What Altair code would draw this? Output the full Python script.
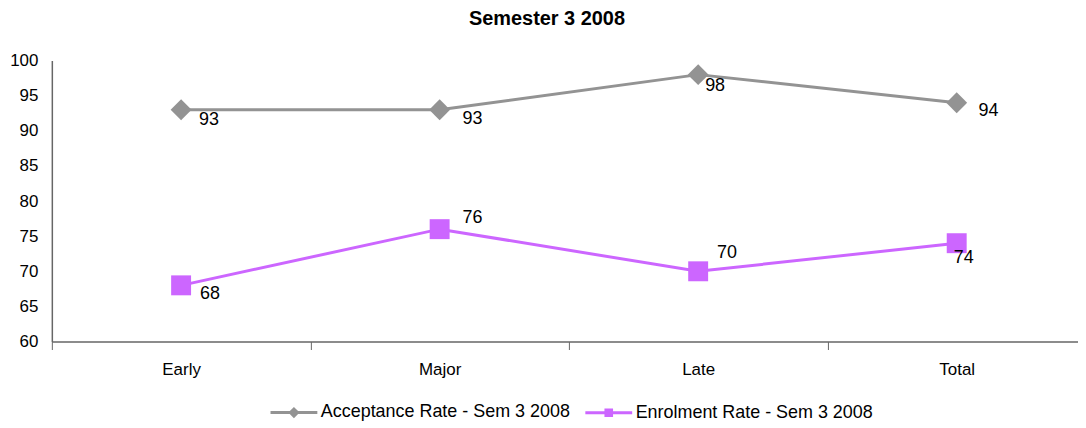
import altair as alt
import pandas as pd

categories = ["Early", "Major", "Late", "Total"]
series_names = ["Acceptance Rate - Sem 3 2008", "Enrolment Rate - Sem 3 2008"]
acceptance = [93, 93, 98, 94]
enrolment = [68, 76, 70, 74]
title_text = "Semester 3 2008"
y_ticks = [60, 65, 70, 75, 80, 85, 90, 95, 100]

rows = []
for c, v in zip(categories, acceptance):
    rows.append({"category": c, "series": series_names[0], "value": v})
for c, v in zip(categories, enrolment):
    rows.append({"category": c, "series": series_names[1], "value": v})
df = pd.DataFrame(rows)

FONT = "Liberation Sans"
GRAY = "#939393"
PURPLE = "#CC66FF"
AXIS_COL = "#666666"

color_scale = alt.Scale(domain=series_names, range=[GRAY, PURPLE])

x_enc = alt.X(
    "category:N",
    sort=categories,
    scale=alt.Scale(type="band", domain=categories, range=[0, 1038], paddingInner=0, paddingOuter=0),
    axis=alt.Axis(
        title=None, labelAngle=0, tickBand="extent", tickSize=8, tickColor=AXIS_COL,
        domainColor=AXIS_COL, domainWidth=1.5, labelFontSize=17, labelColor="black",
        labelFont=FONT, labelPadding=12, grid=False,
    ),
)
y_enc = alt.Y(
    "value:Q",
    scale=alt.Scale(domain=[60, 100], nice=False, zero=False),
    axis=alt.Axis(
        title=None, values=y_ticks, ticks=False, domainColor=AXIS_COL, domainWidth=1.5,
        labelFontSize=17, labelColor="black", labelFont=FONT, labelPadding=14, grid=False,
    ),
)

base = alt.Chart(df)

lines = base.mark_line(strokeWidth=3).encode(
    x=x_enc, y=y_enc, color=alt.Color("series:N", scale=color_scale, legend=None)
)

pts_acc = base.transform_filter(alt.datum.series == series_names[0]).mark_point(
    filled=True, shape="diamond", size=440, opacity=1
).encode(x=x_enc, y=y_enc, color=alt.Color("series:N", scale=color_scale, legend=None))

pts_enr = base.transform_filter(alt.datum.series == series_names[1]).mark_point(
    filled=True, shape="square", size=400, opacity=1
).encode(x=x_enc, y=y_enc, color=alt.Color("series:N", scale=color_scale, legend=None))

# label offsets (style)
offsets = {
    (0, "Early"): (28, 10), (0, "Major"): (33, 9), (0, "Late"): (17, 11), (0, "Total"): (32, 8),
    (1, "Early"): (29, 9), (1, "Major"): (33, -11), (1, "Late"): (29, -18), (1, "Total"): (7, 15),
}
label_layers = []
for (si, cat), (dx, dy) in offsets.items():
    label_layers.append(
        base.transform_filter(
            (alt.datum.series == series_names[si]) & (alt.datum.category == cat)
        ).mark_text(
            dx=dx, dy=dy, fontSize=18, font=FONT, color="black", align="center", baseline="middle"
        ).encode(x=x_enc, y=y_enc, text=alt.Text("value:Q"))
    )

diamond_path = "M-1,0L1,0M0,-0.15L0.15,0L0,0.15L-0.15,0Z"
square_path = "M-1,0L1,0M-0.12,-0.12L0.12,-0.12L0.12,0.12L-0.12,0.12Z"

legend_props = dict(
    title=None, orient="none", legendX=218, legendY=328, direction="horizontal",
    columns=2, labelFontSize=18, labelFont=FONT, labelColor="black",
    symbolStrokeWidth=3, symbolSize=2209, labelOffset=2, columnPadding=8,
    labelLimit=400,
)

legend_layer = base.transform_filter("datum.value < 0").mark_point(
    filled=False, strokeWidth=3, size=2209, opacity=1
).encode(
    x=x_enc, y=y_enc,
    color=alt.Color("series:N", scale=color_scale, legend=alt.Legend(**legend_props)),
    shape=alt.Shape(
        "series:N",
        scale=alt.Scale(domain=series_names, range=[diamond_path, square_path]),
        legend=alt.Legend(**legend_props),
    ),
)

chart = alt.layer(lines, pts_acc, pts_enr, *label_layers, legend_layer).resolve_scale(
    color="independent", shape="independent"
).resolve_legend(
    color="independent", shape="independent"
).properties(
    width=1030,
    height=282,
    title=alt.TitleParams(
        title_text, font=FONT, fontSize=20, fontWeight="bold", color="black",
        anchor="middle", offset=23, dx=-18,
    ),
    view=alt.ViewBackground(stroke="transparent", strokeWidth=0),
    autosize=alt.AutoSizeParams(type="none"),
    padding={"left": 44, "top": 52, "right": 0, "bottom": 84},
).configure_view(stroke="transparent", strokeWidth=0).configure(background="white")

chart.save("out.html", embed_options={"renderer": "svg", "actions": False})
